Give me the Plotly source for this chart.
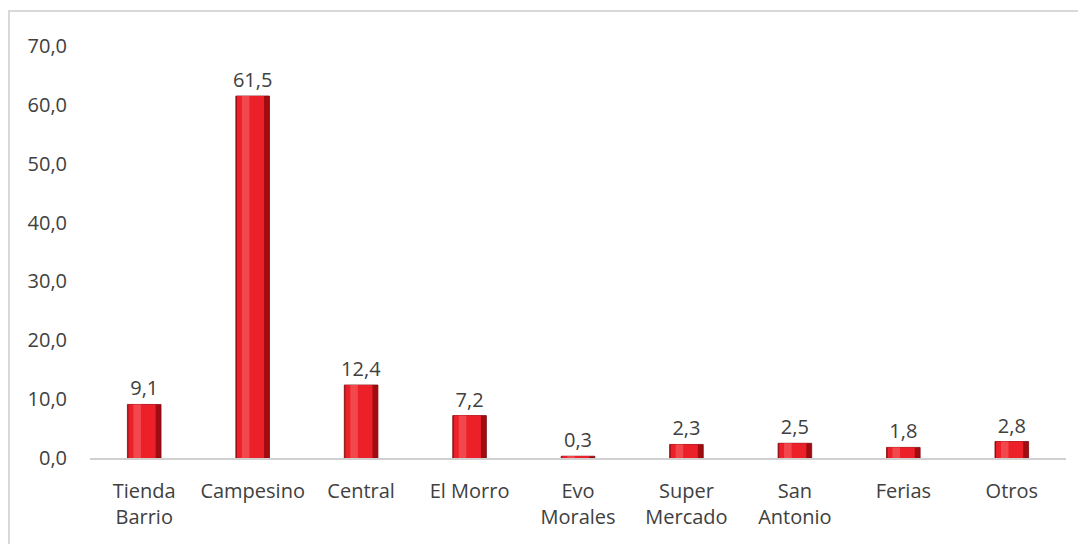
import plotly.graph_objects as go

categories = ["Tienda<br>Barrio", "Campesino", "Central", "El Morro", "Evo<br>Morales",
              "Super<br>Mercado", "San<br>Antonio", "Ferias", "Otros"]
values = [9.1, 61.5, 12.4, 7.2, 0.3, 2.3, 2.5, 1.8, 2.8]
y_ticks = [0, 10, 20, 30, 40, 50, 60, 70]

FONT = "Open Sans"
TXT = "#404040"
FS = 20

fig = go.Figure()
# dark body / edge of each bevelled bar
fig.add_trace(go.Bar(
    x=categories, y=values, width=0.31,
    marker=dict(color="#a10c12", line=dict(color="#7d0a0e", width=0.8)),
    texttemplate="%{y:.1f}", textposition="outside", constraintext="none",
    textfont=dict(family=FONT, size=FS, color=TXT),
    cliponaxis=False, hoverinfo="skip",
))
# bright face
fig.add_trace(go.Bar(
    x=categories, y=values, width=0.25, offset=-0.145,
    marker=dict(color="#ec2028", line=dict(width=0)),
    hoverinfo="skip",
))
# soft highlight strip
fig.add_trace(go.Bar(
    x=categories, y=values, width=0.07, offset=-0.10,
    marker=dict(color="#f2474d", line=dict(width=0)),
    hoverinfo="skip",
))

fig.update_layout(
    width=1086, height=544,
    barmode="overlay",
    showlegend=False,
    separators=",.",
    paper_bgcolor="white", plot_bgcolor="white",
    margin=dict(l=82, r=28, t=38, b=94),
    font=dict(family=FONT, size=FS, color=TXT),
    xaxis=dict(
        showgrid=False, showline=True, linecolor="#d0d0d0", linewidth=1.5,
        ticks="", tickfont=dict(family=FONT, size=FS, color=TXT),
        range=[-0.5, 8.5], ticklabelstandoff=14,
    ),
    yaxis=dict(
        range=[0, 70], tickvals=y_ticks, tickformat=".1f",
        showgrid=False, zeroline=False, showline=False, ticks="",
        tickfont=dict(family=FONT, size=FS, color=TXT),
        ticklabelstandoff=22,
    ),
    shapes=[dict(type="rect", xref="paper", yref="paper",
                 x0=-0.083, x1=1.2, y0=-0.5, y1=1.085,
                 line=dict(color="#d9d9d9", width=2), layer="below")],
)

fig.write_html("out.html")
